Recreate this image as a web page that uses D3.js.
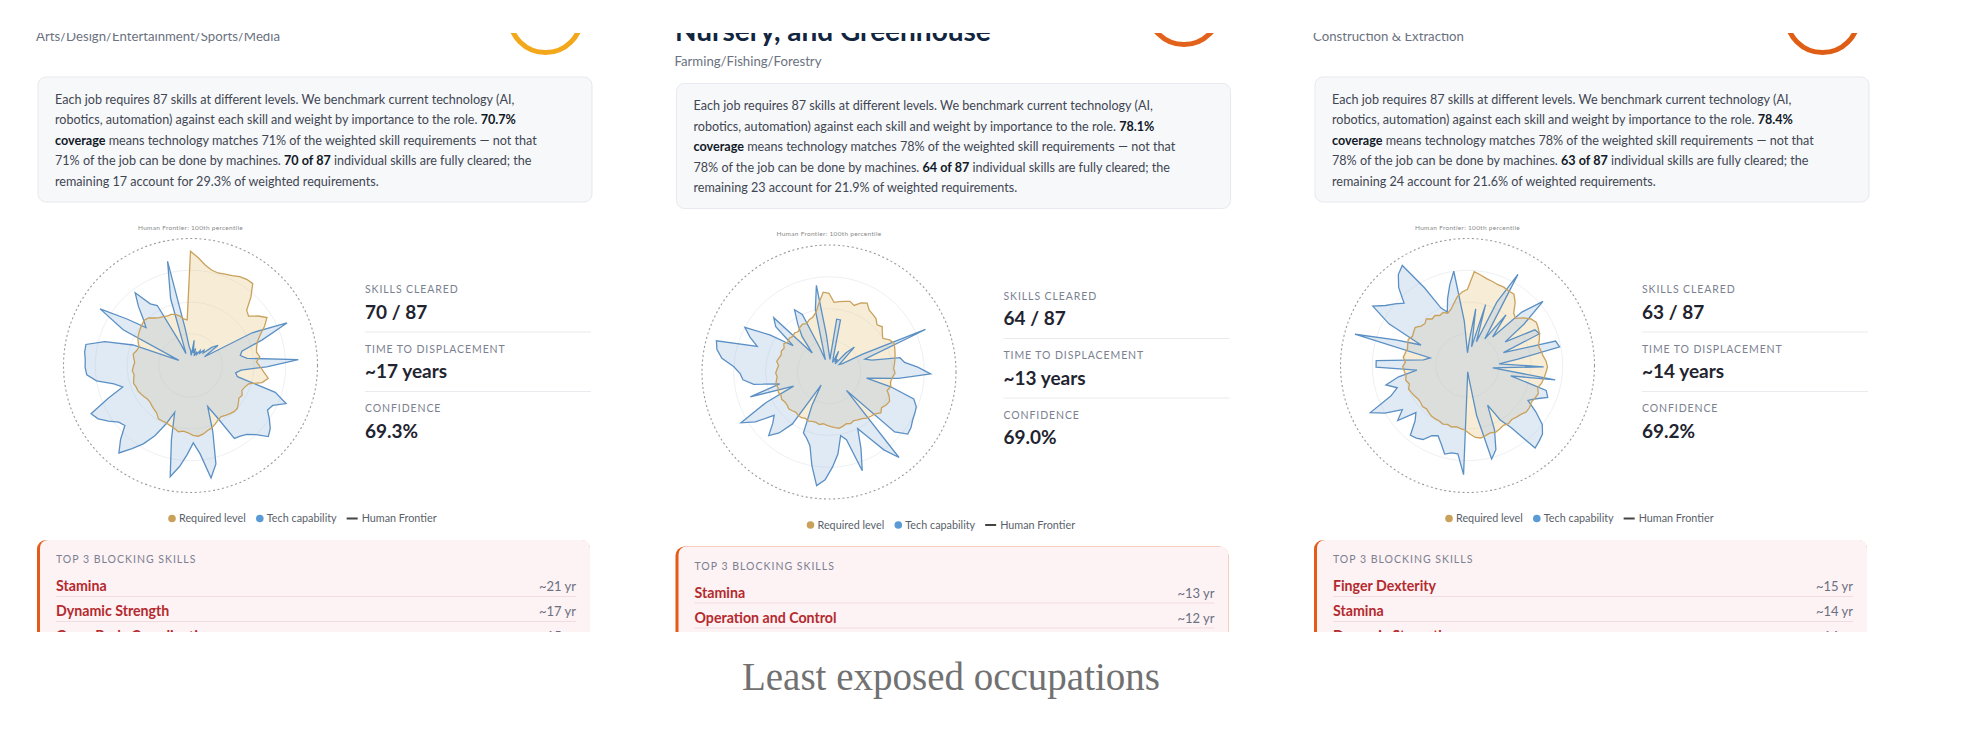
<!DOCTYPE html>
<html>
<head>
<meta charset="utf-8">
<script src="https://cdn.jsdelivr.net/npm/d3@7"></script>
<style>
  body { margin: 0; background: #fff; }
  svg text { font-family: Lato, "Open Sans", sans-serif; }
</style>
</head>
<body>
<svg id="chart"></svg>
<script>
const sectors = ['Arts/Design/Entertainment/Sports/Media', 'Farming/Fishing/Forestry', 'Construction & Extraction'];
const titleTails = [null, 'Nursery, and Greenhouse', null];
const coverage = [70.7, 78.1, 78.4];
const cleared = [70, 64, 63];
const totalSkills = 87;
const remainingPct = [29.3, 21.9, 21.6];
const yearsToDisplace = [17, 13, 14];
const confidence = [69.3, 69.0, 69.2];
const ringColors = ['#f3a81c', '#e2621b', '#e05d16'];
const blockingSkills = [
  ['Stamina', 'Dynamic Strength', 'Gross Body Coordination'],
  ['Stamina', 'Operation and Control', 'Manual Dexterity'],
  ['Finger Dexterity', 'Stamina', 'Dynamic Strength'],
];
const blockingYears = [[21, 17, 15], [13, 12, 11], [15, 14, 14]];
const legendItems = ['Required level', 'Tech capability', 'Human Frontier'];

// 87 skills, clockwise from 12 o'clock, as share of the human frontier
const required1 = [0.90, 0.85, 0.80, 0.77, 0.76, 0.77, 0.78, 0.80, 0.81, 0.81, 0.72, 0.62, 0.60, 0.66, 0.71, 0.66,
  0.60, 0.56, 0.54, 0.53, 0.55, 0.52, 0.55, 0.58, 0.62, 0.58, 0.48, 0.46, 0.45, 0.47, 0.46, 0.48, 0.50, 0.50, 0.49,
  0.48, 0.47, 0.48, 0.50, 0.52, 0.53, 0.55, 0.56, 0.55, 0.53, 0.52, 0.53, 0.51, 0.50, 0.49, 0.49, 0.49, 0.46, 0.45,
  0.44, 0.43, 0.43, 0.44, 0.45, 0.46, 0.46, 0.47, 0.46, 0.45, 0.46, 0.45, 0.44, 0.45, 0.46, 0.44, 0.43, 0.45, 0.47,
  0.48, 0.49, 0.50, 0.51, 0.50, 0.47, 0.45, 0.44, 0.43, 0.43, 0.42, 0.40, 0.37, 0.36];
const tech1 = [0.12, 0.08, 0.20, 0.10, 0.14, 0.08, 0.12, 0.10, 0.14, 0.12, 0.16, 0.14, 0.22, 0.27, 0.13, 0.55,
  0.83, 0.60, 0.42, 0.40, 0.45, 0.85, 0.60, 0.40, 0.36, 0.38, 0.70, 0.81, 0.72, 0.70, 0.75, 0.80, 0.83, 0.75, 0.70,
  0.68, 0.67, 0.45, 0.35, 0.55, 0.80, 0.90, 0.70, 0.61, 0.70, 0.80, 0.89, 0.60, 0.39, 0.50, 0.62, 0.72, 0.80, 0.89,
  0.80, 0.70, 0.72, 0.78, 0.84, 0.87, 0.70, 0.56, 0.62, 0.75, 0.82, 0.83, 0.83, 0.84, 0.84, 0.70, 0.48, 0.10, 0.60,
  0.84, 0.62, 0.46, 0.52, 0.62, 0.72, 0.58, 0.54, 0.20, 0.10, 0.55, 0.84, 0.30, 0.15];
const required2 = [0.62, 0.55, 0.56, 0.57, 0.58, 0.56, 0.60, 0.62, 0.58, 0.57, 0.56, 0.53, 0.55, 0.52, 0.50, 0.54,
  0.56, 0.55, 0.54, 0.53, 0.52, 0.51, 0.52, 0.50, 0.49, 0.50, 0.48, 0.51, 0.53, 0.52, 0.50, 0.52, 0.49, 0.48, 0.47,
  0.45, 0.44, 0.43, 0.44, 0.43, 0.44, 0.45, 0.44, 0.43, 0.42, 0.41, 0.42, 0.41, 0.41, 0.42, 0.41, 0.42, 0.42, 0.41,
  0.42, 0.43, 0.42, 0.42, 0.43, 0.42, 0.43, 0.42, 0.43, 0.42, 0.41, 0.42, 0.41, 0.40, 0.42, 0.41, 0.40, 0.41, 0.40,
  0.42, 0.40, 0.41, 0.40, 0.41, 0.40, 0.42, 0.43, 0.42, 0.44, 0.45, 0.48, 0.55, 0.63];
const tech2 = [0.15, 0.10, 0.42, 0.42, 0.12, 0.08, 0.18, 0.10, 0.12, 0.08, 0.20, 0.28, 0.15, 0.10, 0.12, 0.30,
  0.83, 0.30, 0.35, 0.57, 0.60, 0.70, 0.80, 0.55, 0.30, 0.50, 0.70, 0.74, 0.75, 0.76, 0.78, 0.79, 0.70, 0.20, 0.87,
  0.75, 0.60, 0.50, 0.65, 0.82, 0.55, 0.51, 0.65, 0.75, 0.85, 0.90, 0.75, 0.60, 0.55, 0.52, 0.30, 0.12, 0.50, 0.62,
  0.69, 0.60, 0.55, 0.70, 0.80, 0.55, 0.30, 0.65, 0.40, 0.60, 0.68, 0.70, 0.75, 0.85, 0.90, 0.92, 0.60, 0.68, 0.75,
  0.55, 0.35, 0.55, 0.61, 0.20, 0.35, 0.45, 0.56, 0.50, 0.20, 0.10, 0.50, 0.69, 0.30];
const required3 = [0.60, 0.74, 0.72, 0.70, 0.69, 0.68, 0.68, 0.67, 0.67, 0.62, 0.55, 0.53, 0.58, 0.62, 0.64, 0.63,
  0.62, 0.60, 0.58, 0.59, 0.60, 0.62, 0.63, 0.62, 0.61, 0.60, 0.58, 0.60, 0.59, 0.58, 0.59, 0.59, 0.57, 0.56, 0.55,
  0.56, 0.55, 0.56, 0.57, 0.56, 0.57, 0.58, 0.57, 0.54, 0.51, 0.50, 0.49, 0.50, 0.49, 0.50, 0.49, 0.49, 0.49, 0.48,
  0.47, 0.48, 0.47, 0.47, 0.48, 0.49, 0.50, 0.48, 0.50, 0.49, 0.50, 0.51, 0.49, 0.51, 0.50, 0.49, 0.50, 0.51, 0.49,
  0.50, 0.51, 0.48, 0.47, 0.49, 0.46, 0.47, 0.45, 0.46, 0.44, 0.46, 0.50, 0.55, 0.58];
const tech3 = [0.10, 0.20, 0.45, 0.15, 0.50, 0.20, 0.55, 0.82, 0.25, 0.50, 0.30, 0.60, 0.78, 0.55, 0.35, 0.60,
  0.62, 0.30, 0.72, 0.74, 0.40, 0.25, 0.60, 0.20, 0.70, 0.35, 0.65, 0.68, 0.60, 0.55, 0.65, 0.75, 0.80, 0.82, 0.84,
  0.60, 0.50, 0.35, 0.55, 0.70, 0.76, 0.40, 0.10, 0.05, 0.86, 0.70, 0.70, 0.72, 0.65, 0.60, 0.62, 0.68, 0.70, 0.71,
  0.60, 0.55, 0.70, 0.62, 0.75, 0.85, 0.65, 0.58, 0.66, 0.55, 0.40, 0.72, 0.72, 0.35, 0.30, 0.92, 0.60, 0.40, 0.70,
  0.88, 0.80, 0.75, 0.70, 0.82, 0.90, 0.94, 0.70, 0.50, 0.45, 0.55, 0.65, 0.75, 0.35];
const requiredSeries = [required1, required2, required3];
const techSeries = [tech1, tech2, tech3];

// ---- layout ----
const W = 1974, H = 735;
const PANEL_X = 38, PANEL_PITCH = 638.5, PANEL_W = 554;
const panelDy = [0, 6.5, 0];
const SHOT_TOP = 33, SHOT_BOTTOM = 632;
const R = 127;

const svg = d3.select('#chart').attr('width', W).attr('height', H);

svg.append('defs').append('clipPath').attr('id', 'shot')
  .append('rect').attr('x', 0).attr('y', SHOT_TOP).attr('width', W).attr('height', SHOT_BOTTOM - SHOT_TOP);

const shot = svg.append('g').attr('clip-path', 'url(#shot)');

const rScale = d3.scaleLinear().domain([0, 1]).range([0, R]);
const angle = d3.scaleLinear().domain([0, totalSkills]).range([0, 2 * Math.PI]);
const radial = d3.lineRadial()
  .angle((d, i) => angle(i))
  .radius((d) => rScale(d))
  .curve(d3.curveLinearClosed);

// writes a line made of [text, bold] parts
function richLine(g, x, y, parts) {
  const t = g.append('text').attr('x', x).attr('y', y)
    .attr('font-size', 12.6).attr('fill', '#3f4652');
  parts.forEach(([txt, bold]) => {
    t.append('tspan').text(txt)
      .attr('font-weight', bold ? 700 : 400)
      .attr('fill', bold ? '#111827' : null);
  });
  return t;
}

sectors.forEach((sector, p) => {
  const ox = PANEL_X + p * PANEL_PITCH;
  const dy = panelDy[p];
  const g = shot.append('g').attr('transform', `translate(${ox},0)`);

  // score ring peeking in at the top
  g.append('circle')
    .attr('cx', 507.5).attr('cy', p === 1 ? 8.5 : 16.5).attr('r', 36)
    .attr('fill', 'none').attr('stroke', ringColors[p]).attr('stroke-width', 5);

  if (titleTails[p]) {
    g.append('text').attr('x', -1.5).attr('y', 41)
      .attr('font-size', 28).attr('font-weight', 700).attr('fill', '#12263f')
      .text(titleTails[p]);
  }
  g.append('text').attr('x', -2).attr('y', 41 + (p === 1 ? 24.5 : 0))
    .attr('font-size', 13.2).attr('fill', '#6b7280')
    .text(sector);

  // explanation box
  const box = g.append('g').attr('transform', `translate(0,${dy})`);
  box.append('rect').attr('x', 0).attr('y', 77).attr('width', PANEL_W).attr('height', 125)
    .attr('rx', 8).attr('fill', '#f7f8fa').attr('stroke', '#e7e9ee');
  const match = Math.round(coverage[p]);
  const lines = [
    [[`Each job requires ${totalSkills} skills at different levels. We benchmark current technology (AI,`, false]],
    [['robotics, automation) against each skill and weight by importance to the role. ', false], [`${coverage[p]}%`, true]],
    [['coverage', true], [` means technology matches ${match}% of the weighted skill requirements \u2014 not that`, false]],
    [[`${match}% of the job can be done by machines. `, false], [`${cleared[p]} of ${totalSkills}`, true],
      [' individual skills are fully cleared; the', false]],
    [[`remaining ${totalSkills - cleared[p]} account for ${remainingPct[p]}% of weighted requirements.`, false]],
  ];
  lines.forEach((parts, i) => richLine(box, 17, 103.5 + i * 20.5, parts));

  // radar
  const cx = 152.5, cy = 365.5 + dy;
  const radar = g.append('g').attr('transform', `translate(${cx},${cy})`);
  [0.25, 0.5, 0.75].forEach((k) => {
    radar.append('circle').attr('r', rScale(k)).attr('fill', 'none')
      .attr('stroke', '#eef0f3').attr('stroke-width', 1);
  });
  radar.append('path').datum(requiredSeries[p]).attr('d', radial)
    .attr('fill', '#ebcf95').attr('fill-opacity', 0.38);
  radar.append('path').datum(techSeries[p]).attr('d', radial)
    .attr('fill', '#a8c4e4').attr('fill-opacity', 0.36);
  radar.append('path').datum(techSeries[p]).attr('d', radial)
    .attr('fill', 'none').attr('stroke', '#5b90c4').attr('stroke-width', 1.3)
    .attr('stroke-linejoin', 'miter');
  radar.append('path').datum(requiredSeries[p]).attr('d', radial)
    .attr('fill', 'none').attr('stroke', '#c9a15c').attr('stroke-width', 1.3);
  radar.append('circle').attr('r', rScale(1)).attr('fill', 'none')
    .attr('stroke', '#9a9a9a').attr('stroke-width', 1.1).attr('stroke-dasharray', '2,2.6');
  radar.append('text').attr('y', -R - 9).attr('text-anchor', 'middle')
    .attr('font-size', 6.5).attr('fill', '#8a8a8a').attr('letter-spacing', 0.3)
    .text('Human Frontier: 100th percentile');

  // stats column
  const stats = [
    ['SKILLS CLEARED', `${cleared[p]} / ${totalSkills}`],
    ['TIME TO DISPLACEMENT', `~${yearsToDisplace[p]} years`],
    ['CONFIDENCE', `${confidence[p].toFixed(1)}%`],
  ];
  const sx = 327;
  stats.forEach(([label, value], i) => {
    const y0 = 293 + dy + i * 59.5;
    g.append('text').attr('x', sx).attr('y', y0)
      .attr('font-size', 10.5).attr('fill', '#7b8190').attr('letter-spacing', 0.9)
      .text(label);
    g.append('text').attr('x', sx).attr('y', y0 + 25.5)
      .attr('font-size', 19).attr('font-weight', 700).attr('fill', '#1f2430')
      .text(value);
    if (i < 2) {
      g.append('line').attr('x1', sx).attr('x2', 553)
        .attr('y1', y0 + 39).attr('y2', y0 + 39)
        .attr('stroke', '#e8eaee').attr('stroke-width', 1);
    }
  });

  // legend
  const leg = g.append('g').attr('transform', `translate(134,${522 + dy})`);
  let lx = 0;
  legendItems.forEach((name, i) => {
    if (i < 2) {
      leg.append('circle').attr('cx', lx).attr('cy', -3.5).attr('r', 3.8)
        .attr('fill', i === 0 ? '#c9a25a' : '#5b9bd5');
      lx += 7;
    } else {
      leg.append('line').attr('x1', lx - 4).attr('x2', lx + 7).attr('y1', -3.5).attr('y2', -3.5)
        .attr('stroke', '#444').attr('stroke-width', 2);
      lx += 11;
    }
    const t = leg.append('text').attr('x', lx).attr('y', 0)
      .attr('font-size', 10.8).attr('fill', '#5a5f6a').text(name);
    lx += t.node().getComputedTextLength() + 14;
  });

  // blocking skills card
  const card = g.append('g').attr('transform', `translate(-1,${540 + dy})`);
  card.append('rect').attr('x', 0).attr('y', 0).attr('width', PANEL_W - 1).attr('height', 140)
    .attr('rx', 9).attr('fill', '#e35b16');
  card.append('rect').attr('x', 3).attr('y', 0).attr('width', PANEL_W - 4).attr('height', 140)
    .attr('rx', 8).attr('fill', '#fdf2f4');
  card.append('text').attr('x', 19).attr('y', 23)
    .attr('font-size', 10.5).attr('fill', '#7b8190').attr('letter-spacing', 1)
    .text('TOP 3 BLOCKING SKILLS');
  blockingSkills[p].forEach((skill, i) => {
    const y0 = 51 + i * 25;
    card.append('text').attr('x', 19).attr('y', y0)
      .attr('font-size', 14.2).attr('font-weight', 700).attr('fill', '#b42a2e')
      .text(skill);
    card.append('text').attr('x', 539).attr('y', y0).attr('text-anchor', 'end')
      .attr('font-size', 13).attr('fill', '#6b7080')
      .text(`~${blockingYears[p][i]} yr`);
    card.append('line').attr('x1', 19).attr('x2', 539)
      .attr('y1', y0 + 5.5).attr('y2', y0 + 5.5)
      .attr('stroke', '#f1dde1').attr('stroke-width', 1);
  });
});

svg.append('text').attr('x', 951).attr('y', 690).attr('text-anchor', 'middle')
  .style('font-family', '"Liberation Serif", "DejaVu Serif", serif')
  .attr('font-size', 39).attr('fill', '#717171')
  .text('Least exposed occupations');
</script>
</body>
</html>
